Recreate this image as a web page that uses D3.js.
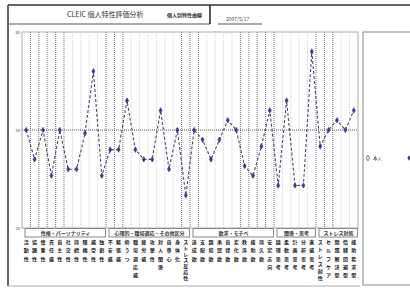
<!DOCTYPE html>
<html>
<head>
<meta charset="utf-8">
<script src="https://cdn.jsdelivr.net/npm/d3@7"></script>
<style>
  body { margin: 0; background: #fff; }
  svg { display: block; font-family: "Noto Sans CJK JP", "Noto Sans", sans-serif; }
</style>
</head>
<body>
<svg id="chart" width="410" height="289"></svg>
<script>
// category labels (drawn vertically under the plot)
const categories = [
    '活動性', '協調性', '慎重性', '責任感', '自主性', '社交性', '持続性', '積極性', '感受性', '独創性',
    '不安感', '緊張感', '抑うつ', '職場適応感', '疲労感', '攻撃性', '対人関係', '自尊心', '身体化', 'ストレス反応性',
    '達成欲', '支配欲', '親和欲', '承認欲', '自律欲', '変化欲', '秩序欲', '援助欲', '持久欲', '安定志向',
    '論理思考', '柔軟思考', '計画思考', '分析思考', '直感思考',
    'ストレス耐性', 'セルフケア', '問題解決型', '情緒回避型', '援助希求型'
];

// score per category (50 = average)
const scores = [
    50, 41, 50, 36, 50, 38, 38, 49, 68, 36,
    44, 44, 59, 44, 41, 41, 56, 38, 50, 30,
    50, 47, 41, 47, 53, 50, 39, 36, 45, 56,
    33, 59, 33, 33, 74,
    45, 50, 53, 50, 56
];

const groups = [
    {name: '性格・パーソナリティ', start: 0, end: 10},
    {name: '心理的・職場適応・その他区分', start: 10, end: 20},
    {name: '欲求・モチベ', start: 20, end: 30},
    {name: '関係・思考', start: 30, end: 35},
    {name: 'ストレス対処', start: 35, end: 40},
];

// boundaries drawn darker
const darkLines = [0, 1, 2, 3, 4, 9, 10, 11, 18, 19, 20, 25, 26, 27, 28, 29, 34, 35, 36];

const yTicks = [20, 50, 80];

const svg = d3.select('#chart');

// page frame
svg.append('rect').attr('width', 410).attr('height', 289).attr('fill', '#fff');
svg.append('line').attr('x1', 8).attr('x2', 410).attr('y1', 5).attr('y2', 5)
    .attr('stroke', '#333').attr('stroke-width', 1.5);
svg.append('line').attr('x1', 8).attr('x2', 8).attr('y1', 5).attr('y2', 286)
    .attr('stroke', '#333').attr('stroke-width', 1.5);
svg.append('line').attr('x1', 8).attr('x2', 360).attr('y1', 286).attr('y2', 286)
    .attr('stroke', '#aaa').attr('stroke-width', 1);

// title box
svg.append('line').attr('x1', 8).attr('x2', 210).attr('y1', 24).attr('y2', 24)
    .attr('stroke', '#555').attr('stroke-width', 1);
svg.append('line').attr('x1', 210).attr('x2', 210).attr('y1', 5).attr('y2', 24)
    .attr('stroke', '#222').attr('stroke-width', 1.5);
svg.append('text').attr('x', 67).attr('y', 17).attr('font-size', 7).attr('fill', '#333')
    .text('CLEIC 個人特性評価分析');
svg.append('text').attr('x', 167).attr('y', 17).attr('font-size', 5).attr('font-weight', 'bold').attr('fill', '#333')
    .text('個人別特性曲線');
svg.append('text').attr('x', 226).attr('y', 21).attr('font-size', 5).attr('fill', '#444')
    .text('2007/5/17');
svg.append('line').attr('x1', 218).attr('x2', 262).attr('y1', 24).attr('y2', 24)
    .attr('stroke', '#555').attr('stroke-width', 1);

// scales
const x = d3.scaleBand()
    .domain(d3.range(categories.length))
    .range([22, 358]);

const y = d3.scaleLinear()
    .domain([20, 80])
    .range([228, 32]);

// plot frame
svg.append('rect')
    .attr('x', 22).attr('y', 32).attr('width', 336).attr('height', 196)
    .attr('fill', 'none').attr('stroke', '#aaa');

// vertical lines between categories
svg.append('g').selectAll('line')
    .data(d3.range(categories.length - 1))
    .enter()
    .append('line')
    .attr('x1', (d) => x(d) + x.bandwidth())
    .attr('x2', (d) => x(d) + x.bandwidth())
    .attr('y1', 32)
    .attr('y2', 227)
    .attr('stroke', (d) => darkLines.includes(d) ? '#777' : '#d0d0d0')
    .attr('stroke-dasharray', '1,1')
    .attr('stroke-width', 1);

// average line
svg.append('line')
    .attr('x1', 22).attr('x2', 358)
    .attr('y1', y(50)).attr('y2', y(50))
    .attr('stroke', '#555')
    .attr('stroke-dasharray', '1,1');

// y labels
svg.append('g').selectAll('text')
    .data(yTicks)
    .enter()
    .append('text')
    .attr('x', 20)
    .attr('y', (d) => y(d) + 1.5)
    .attr('text-anchor', 'end')
    .attr('font-size', 4)
    .attr('fill', '#444')
    .text((d) => d);

// profile line
const line = d3.line()
    .x((d, i) => x(i) + x.bandwidth() / 2)
    .y((d) => y(d));

svg.append('path')
    .datum(scores)
    .attr('d', line)
    .attr('fill', 'none')
    .attr('stroke', '#4a4a70')
    .attr('stroke-width', 1.1)
    .attr('stroke-dasharray', '3,2');

svg.append('g').selectAll('path')
    .data(scores)
    .enter()
    .append('path')
    .attr('d', d3.symbol().type(d3.symbolDiamond).size(9))
    .attr('transform', (d, i) => `translate(${x(i) + x.bandwidth() / 2},${y(d)})`)
    .attr('fill', '#3a3a8c')
    .attr('stroke', '#3a3a8c')
    .attr('stroke-width', 0.5);

// group boxes
const groupG = svg.append('g').selectAll('g')
    .data(groups)
    .enter()
    .append('g');

groupG.append('rect')
    .attr('x', (d) => x(d.start) + 3)
    .attr('y', 228.5)
    .attr('width', (d) => x(d.end - 1) + x.bandwidth() - x(d.start) - 3.5)
    .attr('height', 8.5)
    .attr('fill', '#fff')
    .attr('stroke', '#888')
    .attr('stroke-width', 1);

groupG.append('text')
    .attr('x', (d) => (x(d.start) + 3 + x(d.end - 1) + x.bandwidth()) / 2)
    .attr('y', 235)
    .attr('text-anchor', 'middle')
    .attr('font-size', 5)
    .attr('font-weight', 'bold')
    .attr('fill', '#333')
    .text((d) => d.name);

// vertical category labels, one char per row
const labelG = svg.append('g').selectAll('g')
    .data(categories)
    .enter()
    .append('g')
    .attr('transform', (d, i) => `translate(${x(i) + x.bandwidth() / 2},0)`);

labelG.selectAll('text')
    .data((d) => {
        const chars = Array.from(d);
        const step = Math.min(8.3, 36 / Math.max(chars.length - 1, 1));
        return chars.map((c, i) => ({c: c, y: 244 + i * step}));
    })
    .enter()
    .append('text')
    .attr('x', 0)
    .attr('y', (d) => d.y)
    .attr('text-anchor', 'middle')
    .attr('font-size', 5)
    .attr('font-weight', 'bold')
    .attr('fill', '#222')
    .text((d) => d.c);

// legend box
svg.append('rect')
    .attr('x', 363).attr('y', 32).attr('width', 60).attr('height', 253)
    .attr('fill', 'none').attr('stroke', '#888');

svg.append('path')
    .attr('d', d3.symbol().type(d3.symbolDiamond).size(9))
    .attr('transform', 'translate(368,158)')
    .attr('fill', '#fff').attr('stroke', '#3a3a8c').attr('stroke-width', 0.7);
svg.append('text').attr('x', 373).attr('y', 160).attr('font-size', 4.5).attr('fill', '#333')
    .text('本人');
svg.append('path')
    .attr('d', d3.symbol().type(d3.symbolDiamond).size(9))
    .attr('transform', 'translate(409,158)')
    .attr('fill', '#3a3a8c');
</script>
</body>
</html>
